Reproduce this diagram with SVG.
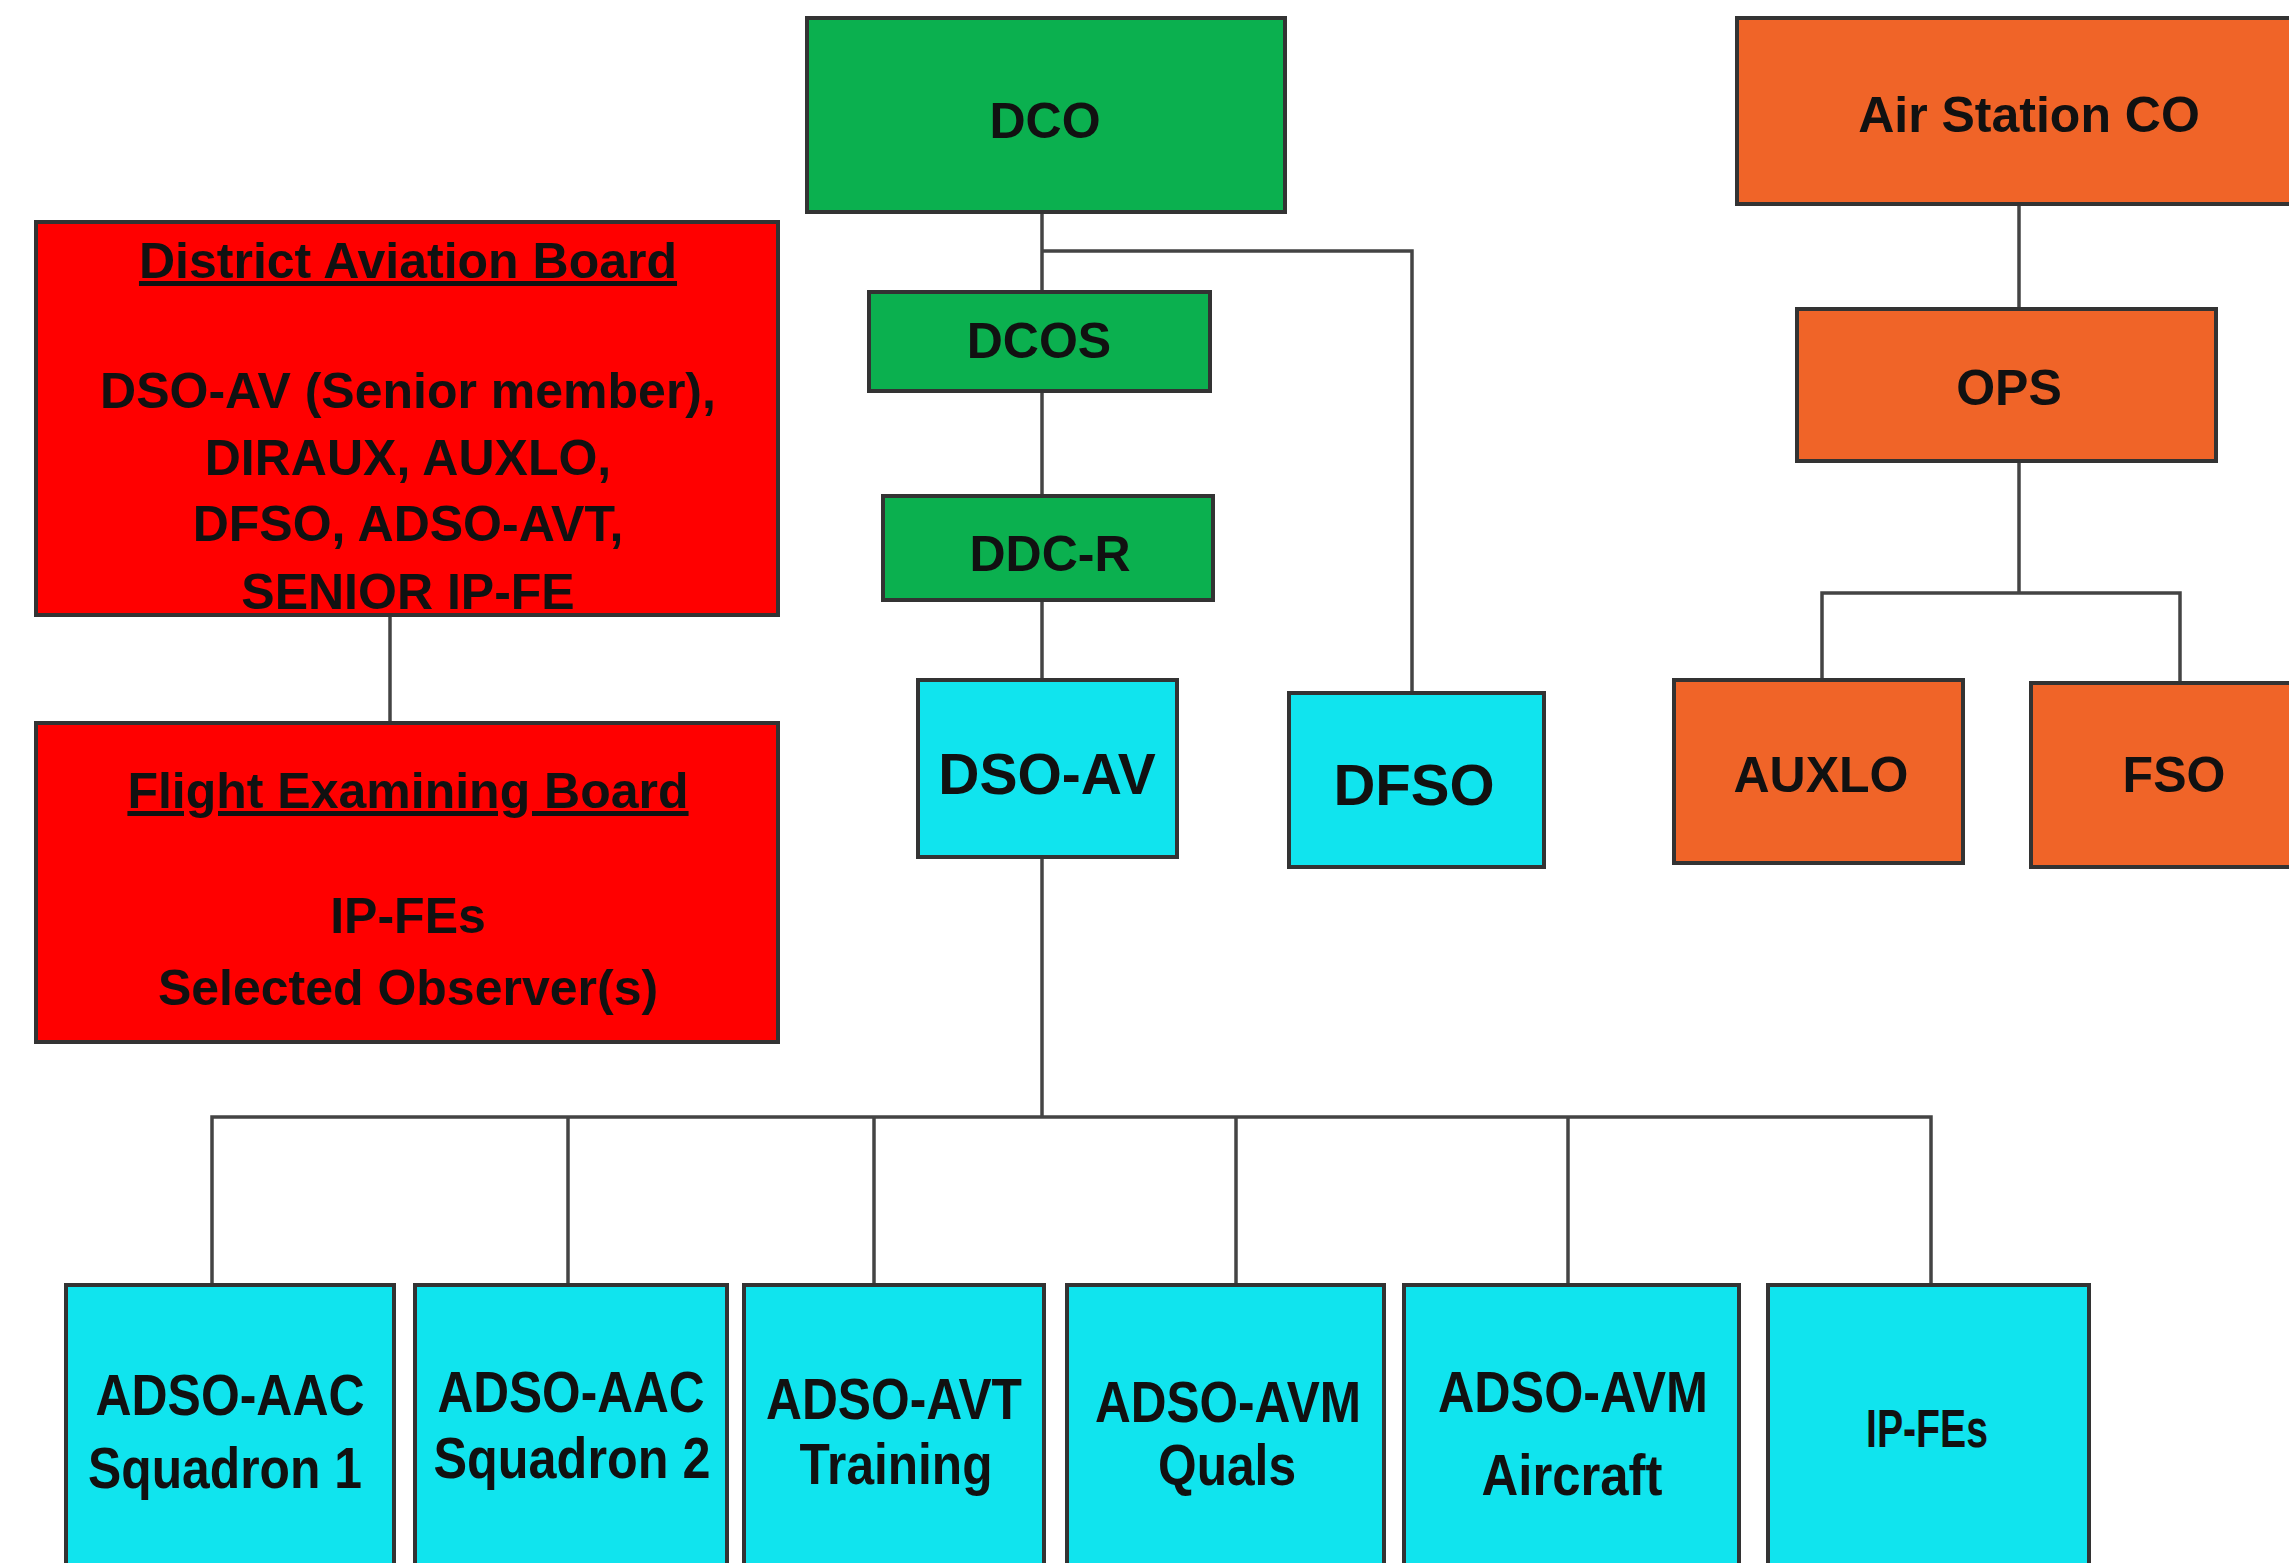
<svg xmlns="http://www.w3.org/2000/svg" width="2289" height="1563" viewBox="0 0 2289 1563">
<style>
.box{stroke:#333;stroke-width:4}
.g{fill:#0BB04F}
.c{fill:#10E4EE}
.o{fill:#F06428}
.r{fill:#FF0000}
text{font-family:"Liberation Sans",Arial,sans-serif;font-weight:bold;fill:#111;text-anchor:middle}
.t50{font-size:50px}
.t57{font-size:57px}
.t58{font-size:58px}
.t54{font-size:54px}
.con{fill:none;stroke:#444;stroke-width:3.5}
</style>
<rect width="2289" height="1563" fill="#fff"/>
<g id="connectors">
<path class="con" d="M1042 212 V680"/>
<path class="con" d="M1042 251 H1412 V693"/>
<path class="con" d="M2019 204 V309"/>
<path class="con" d="M2019 461 V593"/>
<path class="con" d="M1822 680 V593 H2180 V683"/>
<path class="con" d="M390 615 V723"/>
<path class="con" d="M1042 857 V1117"/>
<path class="con" d="M212 1285 V1117 H1931 V1285"/>
<path class="con" d="M568 1117 V1285"/>
<path class="con" d="M874 1117 V1285"/>
<path class="con" d="M1236 1117 V1285"/>
<path class="con" d="M1568 1117 V1285"/>
</g>
<g id="dco"><rect class="box g" x="807" y="18" width="478" height="194"/><text class="t50" x="1045" y="138">DCO</text></g>
<g id="dcos"><rect class="box g" x="869" y="292" width="341" height="99"/><text class="t50" x="1039" y="358">DCOS</text></g>
<g id="ddcr"><rect class="box g" x="883" y="496" width="330" height="104"/><text class="t50" x="1050" y="571">DDC-R</text></g>
<g id="dsoav"><rect class="box c" x="918" y="680" width="259" height="177"/><text class="t57" x="1047" y="794">DSO-AV</text></g>
<g id="dfso"><rect class="box c" x="1289" y="693" width="255" height="174"/><text class="t58" x="1414" y="805">DFSO</text></g>
<g id="airstationco"><rect class="box o" x="1737" y="18" width="600" height="186"/><text class="t50" x="2029" y="132">Air Station CO</text></g>
<g id="ops"><rect class="box o" x="1797" y="309" width="419" height="152"/><text class="t50" x="2009" y="405">OPS</text></g>
<g id="auxlo"><rect class="box o" x="1674" y="680" width="289" height="183"/><text class="t50" x="1821" y="792">AUXLO</text></g>
<g id="fso"><rect class="box o" x="2031" y="683" width="300" height="184"/><text class="t50" x="2174" y="792">FSO</text></g>
<g id="dab"><rect class="box r" x="36" y="222" width="742" height="393"/>
<text class="t50" x="408" y="278" text-decoration="underline">District Aviation Board</text>
<text class="t50" x="408" y="408">DSO-AV (Senior member),</text>
<text class="t50" x="408" y="475">DIRAUX, AUXLO,</text>
<text class="t50" x="408" y="541">DFSO, ADSO-AVT,</text>
<text class="t50" x="408" y="609">SENIOR IP-FE</text></g>
<g id="feb"><rect class="box r" x="36" y="723" width="742" height="319"/>
<text class="t50" x="408" y="808" text-decoration="underline">Flight Examining Board</text>
<text class="t50" x="408" y="933">IP-FEs</text>
<text class="t50" x="408" y="1005">Selected Observer(s)</text></g>
<g id="adso-aac-1"><rect class="box c" x="66" y="1285" width="328" height="300"/>
<text class="t58" x="230" y="1415" textLength="269" lengthAdjust="spacingAndGlyphs">ADSO-AAC</text>
<text class="t58" x="225" y="1488" textLength="274" lengthAdjust="spacingAndGlyphs">Squadron 1</text></g>
<g id="adso-aac-2"><rect class="box c" x="415" y="1285" width="312" height="300"/>
<text class="t58" x="571" y="1412" textLength="267" lengthAdjust="spacingAndGlyphs">ADSO-AAC</text>
<text class="t58" x="572" y="1478" textLength="277" lengthAdjust="spacingAndGlyphs">Squadron 2</text></g>
<g id="adso-avt"><rect class="box c" x="744" y="1285" width="300" height="300"/>
<text class="t58" x="894" y="1419" textLength="256" lengthAdjust="spacingAndGlyphs">ADSO-AVT</text>
<text class="t58" x="896" y="1484" textLength="193" lengthAdjust="spacingAndGlyphs">Training</text></g>
<g id="adso-avm-quals"><rect class="box c" x="1067" y="1285" width="317" height="300"/>
<text class="t58" x="1228" y="1422" textLength="266" lengthAdjust="spacingAndGlyphs">ADSO-AVM</text>
<text class="t58" x="1227" y="1485" textLength="138" lengthAdjust="spacingAndGlyphs">Quals</text></g>
<g id="adso-avm-aircraft"><rect class="box c" x="1404" y="1285" width="335" height="300"/>
<text class="t58" x="1573" y="1412" textLength="270" lengthAdjust="spacingAndGlyphs">ADSO-AVM</text>
<text class="t58" x="1572" y="1495" textLength="181" lengthAdjust="spacingAndGlyphs">Aircraft</text></g>
<g id="ip-fes"><rect class="box c" x="1768" y="1285" width="321" height="300"/>
<text class="t54" x="1927" y="1447" textLength="122" lengthAdjust="spacingAndGlyphs">IP-FEs</text></g>
</svg>
